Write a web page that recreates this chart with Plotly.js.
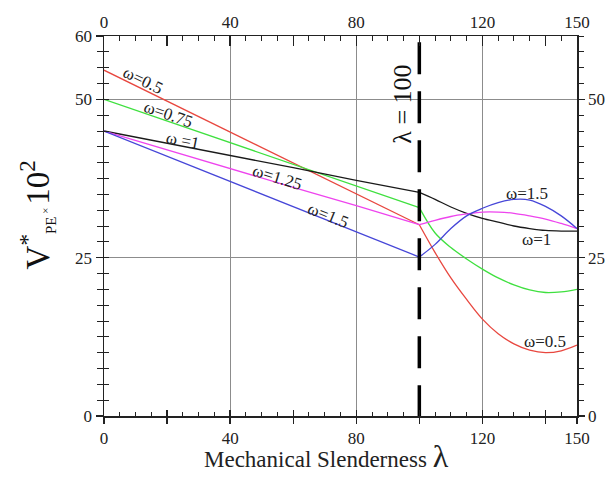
<!DOCTYPE html>
<html>
<head>
<meta charset="utf-8">
<script src="https://cdn.plot.ly/plotly-3.0.1.min.js"></script>
<style>html,body{margin:0;padding:0;background:#fff;}#chart{width:615px;height:477px;}</style>
</head>
<body>
<div id="chart"></div>
<script>
// ---- data ----
var lambda = [0, 20, 40, 60, 80, 100, 105, 110, 115, 120, 125, 130, 135, 140, 145, 150];
var w050  = [54.6, 49.7, 44.8, 40.0, 35.1, 30.2, 25.8, 21.8, 18.4, 15.3, 13.0, 11.4, 10.4, 10.0, 10.3, 11.2];
var w075  = [50.0, 46.6, 43.2, 39.7, 36.3, 32.9, 28.9, 26.6, 24.8, 23.2, 21.8, 20.7, 19.9, 19.5, 19.6, 20.0];
var w100  = [45.0, 43.1, 41.1, 39.2, 37.2, 35.3, 34.2, 33.0, 32.0, 31.2, 30.6, 30.0, 29.6, 29.3, 29.2, 29.2];
var w125  = [45.0, 42.0, 39.1, 36.1, 33.2, 30.2, 30.9, 31.5, 31.9, 32.2, 32.2, 32.0, 31.6, 31.1, 30.4, 29.6];
var w150  = [45.0, 41.0, 37.1, 33.1, 29.1, 25.1, 27.1, 29.6, 31.6, 32.8, 33.7, 34.2, 34.1, 33.1, 31.6, 29.6];
var seriesNames = ["ω=0.5", "ω=0.75", "ω=1", "ω=1.25", "ω=1.5"];
var lambdaLimit = 100;
var limitLineY = [0, 59];
var xTickVals = [0, 20, 40, 60, 80, 100, 120, 140, 150];
var xTickLabels = [0, 40, 80, 120, 150];
var xGridVals = [40, 80, 120];
var yLeftLabels = [0, 25, 50, 60];
var yRightLabels = [0, 25, 50];
var yGridVals = [25, 50];

// ---- styles ----
var colors = ["#e8473f", "#3fe03f", "#1a1a1a", "#ee44ee", "#4646d8"];
var FONT = "'Liberation Serif', 'Times New Roman', Times, serif";
var all = [w050, w075, w100, w125, w150];

var traces = [];
all.forEach(function (ys, i) {
  var xa = [], ya = [], xb = [], yb = [];
  lambda.forEach(function (x, k) {
    if (x <= lambdaLimit) { xa.push(x); ya.push(ys[k]); }
    if (x >= lambdaLimit) { xb.push(x); yb.push(ys[k]); }
  });
  traces.push({x: xa, y: ya, mode: 'lines', name: seriesNames[i], line: {color: colors[i], width: 1.3}, hoverinfo: 'skip'});
  traces.push({x: xb, y: yb, mode: 'lines', name: seriesNames[i], line: {color: colors[i], width: 1.3, shape: 'spline', smoothing: 1}, hoverinfo: 'skip'});
});
traces.push({x: [lambdaLimit, lambdaLimit], y: [limitLineY[1], limitLineY[0]], mode: 'lines',
  line: {color: '#000', width: 3.5, dash: '32px,17px'}, hoverinfo: 'skip'});
// empty traces so overlay axes exist
[['x2','y'],['x3','y'],['x4','y'],['x','y2'],['x','y3'],['x','y4']].forEach(function (p) {
  traces.push({x: [], y: [], xaxis: p[0], yaxis: p[1], mode: 'lines', hoverinfo: 'skip'});
});

var xText = xTickVals.map(function (v) { return xTickLabels.indexOf(v) >= 0 ? String(v) : ' '; });
var tickFont = {family: FONT, size: 17, color: '#222'};
var R = [0, 150], RY = [0, 60];
var lineC = '#222';

var layout = {
  width: 615, height: 477,
  margin: {l: 104, r: 38, t: 36, b: 61},
  paper_bgcolor: '#fff', plot_bgcolor: '#fff',
  showlegend: false,
  font: {family: FONT, color: '#222'},
  xaxis: {range: R, tickmode: 'array', tickvals: xTickVals, ticktext: xText, ticks: 'outside', ticklen: 6,
    tickcolor: lineC, tickwidth: 1.3, showgrid: false, zeroline: false, showline: true, linecolor: lineC, linewidth: 1.5,
    tickfont: tickFont, fixedrange: true},
  xaxis2: {overlaying: 'x', anchor: 'y', side: 'bottom', range: R, tickmode: 'array', tickvals: xTickVals,
    ticks: 'inside', ticklen: 6, tickcolor: lineC, tickwidth: 1.3, showticklabels: false, showgrid: false, zeroline: false, showline: false,
    minor: {tickmode: 'linear', tick0: 0, dtick: 5, ticks: 'inside', ticklen: 4, tickcolor: lineC, tickwidth: 1, showgrid: false}},
  xaxis3: {overlaying: 'x', anchor: 'y', side: 'top', range: R, tickmode: 'array', tickvals: xTickVals, ticktext: xText,
    ticks: 'inside', ticklen: 10, tickcolor: lineC, tickwidth: 1.3, showgrid: false, zeroline: false, showline: true,
    linecolor: lineC, linewidth: 1.5, tickfont: tickFont,
    minor: {tickmode: 'linear', tick0: 0, dtick: 5, ticks: 'inside', ticklen: 5, tickcolor: lineC, tickwidth: 1, showgrid: false}},
  xaxis4: {overlaying: 'x', anchor: 'y', side: 'bottom', range: R, tickmode: 'array', tickvals: xGridVals, ticks: '',
    showticklabels: false, showgrid: true, gridcolor: '#8c8c8c', gridwidth: 1, zeroline: false, showline: false},
  yaxis: {range: RY, tickmode: 'array', tickvals: yLeftLabels, ticks: 'outside', ticklen: 7, tickcolor: lineC, tickwidth: 1.3,
    showgrid: false, zeroline: false, showline: true, linecolor: lineC, linewidth: 1.5, tickfont: tickFont, fixedrange: true,
    minor: {tickmode: 'linear', tick0: 0, dtick: 2.5, ticks: 'outside', ticklen: 6, tickcolor: lineC, tickwidth: 1, showgrid: false}},
  yaxis2: {overlaying: 'y', anchor: 'x', side: 'left', range: RY, tickmode: 'linear', tick0: 0, dtick: 2.5, ticks: 'inside',
    ticklen: 5, tickcolor: lineC, tickwidth: 1, showticklabels: false, showgrid: false, zeroline: false, showline: false},
  yaxis3: {overlaying: 'y', anchor: 'x', side: 'left', range: RY, tickmode: 'array', tickvals: yGridVals, ticks: '',
    showticklabels: false, showgrid: true, gridcolor: '#8c8c8c', gridwidth: 1, zeroline: false, showline: false},
  yaxis4: {overlaying: 'y', anchor: 'x', side: 'right', range: RY, tickmode: 'array', tickvals: yRightLabels, ticks: 'outside',
    ticklen: 6, tickcolor: lineC, tickwidth: 1.3, showgrid: false, zeroline: false, showline: true, linecolor: lineC, linewidth: 1.5,
    tickfont: tickFont,
    minor: {tickmode: 'linear', tick0: 0, dtick: 2.5, ticks: 'outside', ticklen: 5, tickcolor: lineC, tickwidth: 1, showgrid: false}},
  annotations: [
    {x: 12.5, y: 53.0, text: 'ω=0.5', textangle: 26},
    {x: 20.6, y: 47.6, text: 'ω=0.75', textangle: 19},
    {x: 25.1, y: 43.5, text: 'ω =1', textangle: 11},
    {x: 55.0, y: 37.6, text: 'ω=1.25', textangle: 17},
    {x: 71.1, y: 31.6, text: 'ω=1.5', textangle: 22},
    {x: 134.2, y: 35.1, text: 'ω=1.5', textangle: 0},
    {x: 137.0, y: 27.9, text: 'ω=1', textangle: 0},
    {x: 140.0, y: 11.7, text: 'ω=0.5', textangle: 0}
  ].map(function (a) {
    return {x: a.x, y: a.y, xref: 'x', yref: 'y', text: a.text, textangle: a.textangle, showarrow: false,
      font: {family: FONT, size: 17, color: '#222'}, xanchor: 'center', yanchor: 'middle'};
  }).concat([
    {x: 94.6, y: 49.2, xref: 'x', yref: 'y', text: 'λ = 100', textangle: -90, showarrow: false,
      font: {family: FONT, size: 26, color: '#111'}, xanchor: 'center', yanchor: 'middle'},
    {x: 0.47, y: -0.105, xref: 'paper', yref: 'paper', showarrow: false, xanchor: 'center', yanchor: 'middle',
      text: 'Mechanical Slenderness <span style="font-size:32px">λ</span>', font: {family: FONT, size: 23, color: '#222'}},
    {x: -0.142, y: 0.53, xref: 'paper', yref: 'paper', showarrow: false, xanchor: 'center', yanchor: 'middle', textangle: -90,
      text: 'V<sup>*</sup><sub><span style="font-size:15px">PE</span></sub><span style="font-size:11px"> × </span>10<sup>2</sup>',
      font: {family: FONT, size: 33, color: '#111'}}
  ])
};

Plotly.newPlot('chart', traces, layout, {staticPlot: true, displayModeBar: false});
</script>
</body>
</html>
